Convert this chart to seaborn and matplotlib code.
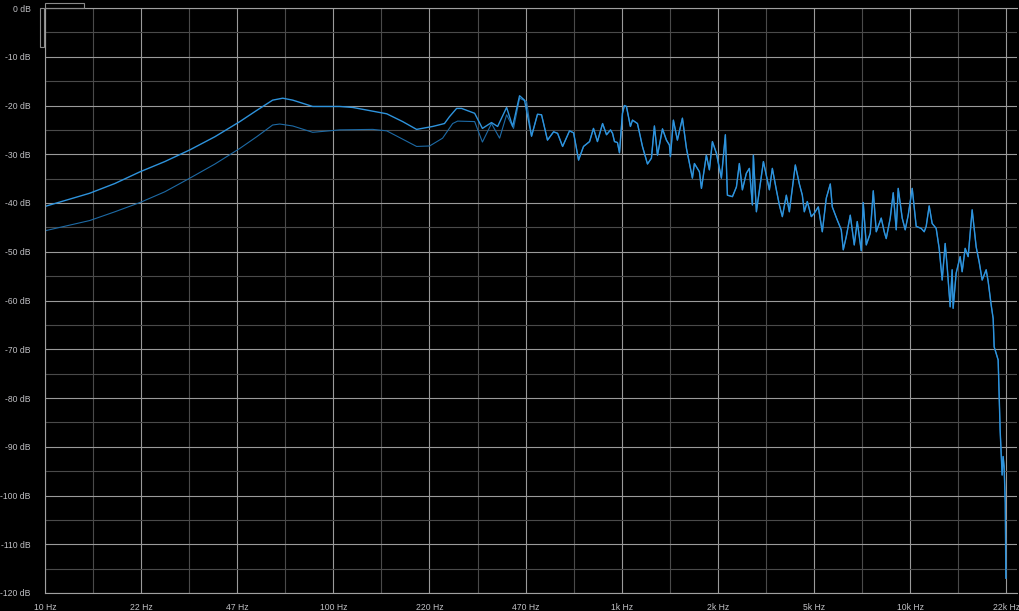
import numpy as np
import pandas as pd
import matplotlib
matplotlib.use('Agg')
import matplotlib.pyplot as plt
import seaborn as sns
from matplotlib.patches import Rectangle
from matplotlib.ticker import NullFormatter

# 低频段：两条曲线分开
upper_low_hz = [10, 14.3, 17.5, 21.4, 26.1, 31.9, 39.0, 47.6, 54.5, 61.9, 67.1, 72.7, 85.3,
                105.9, 117.5, 154.3, 175.3, 196, 223, 245, 255, 270, 281, 312, 332, 357,
                375, 403, 423, 447, 465]
upper_low_db = [-40.7, -38.0, -36.0, -33.6, -31.5, -29.1, -26.4, -23.3, -21.0, -18.9, -18.5,
                -18.9, -20.2, -20.2, -20.4, -21.7, -23.3, -24.9, -24.3, -23.7, -22.3, -20.6,
                -20.6, -21.6, -24.7, -23.5, -24.3, -20.4, -24.3, -18.0, -18.9]

lower_low_hz = [10, 14.3, 17.5, 21.4, 26.1, 31.9, 39.0, 47.6, 54.5, 61.9, 65.5, 72.7, 85.3,
                105.9, 137.9, 154.3, 196, 217.6, 241.4, 261.6, 272.2, 312, 332, 357, 381,
                403, 426, 447, 473]
lower_low_db = [-45.7, -43.6, -41.8, -39.9, -37.7, -34.9, -32.0, -28.8, -26.4, -24.0, -23.8,
                -24.2, -25.5, -25.0, -24.9, -25.2, -28.4, -28.3, -26.7, -23.7, -23.2, -23.3,
                -27.5, -23.7, -26.7, -21.9, -24.7, -18.5, -19.2]

# 中高频段：两条曲线几乎重合
shared_hz = [492, 516, 533, 559, 587, 606, 631, 667, 689, 717, 746, 783, 808, 834, 869, 897,
             926, 941, 956, 979, 995, 1019, 1035, 1052, 1086, 1104, 1149, 1196, 1245, 1285,
             1316, 1349, 1404, 1449, 1484, 1496, 1532, 1582, 1647, 1701, 1784, 1813, 1887,
             1918, 1995, 2044, 2094, 2162, 2250, 2323, 2361, 2458, 2538, 2598, 2662, 2748,
             2815, 2884, 2907, 2978, 3150, 3304, 3384, 3494, 3579, 3666, 3785, 3877, 4067,
             4201, 4302, 4371, 4477, 4623, 4735, 4889, 5048, 5212, 5382, 5468, 5691, 5876,
             5971, 6116, 6315, 6520, 6678, 6896, 7006, 7178, 7412, 7592, 7776, 8093, 8289,
             8423, 8697, 8909, 9125, 9271, 9573, 9805, 10044, 10371, 10708, 11143, 11415,
             11598, 11879, 12168, 12564, 12869, 13183, 13503, 13722, 14054, 14278, 14392,
             14743, 15223, 15468, 15849, 16233, 16761, 17306, 17728, 18159, 18750, 19053,
             19513, 19830, 19988, 20638, 20970, 21135, 21306, 21478, 21648, 21850, 21950]
shared_db = [-26.3, -21.8, -21.9, -27.1, -25.4, -25.7, -28.4, -25.2, -25.6, -31.2, -28.4,
             -27.4, -24.7, -27.4, -23.7, -26.0, -25.0, -25.7, -27.4, -27.6, -29.7, -21.6,
             -20.0, -20.2, -24.3, -23.0, -23.7, -28.4, -32.0, -30.8, -24.2, -30.2, -24.8,
             -27.1, -28.1, -30.5, -23.0, -27.1, -22.6, -28.8, -34.9, -31.9, -33.6, -37.0,
             -30.2, -33.2, -27.4, -29.8, -34.9, -26.0, -38.4, -38.7, -36.7, -31.9, -37.3,
             -33.9, -32.9, -40.4, -30.2, -41.8, -31.5, -37.3, -32.9, -37.3, -40.4, -42.8,
             -38.4, -41.8, -32.2, -36.1, -38.4, -41.8, -39.7, -42.8, -42.1, -40.8, -45.9,
             -39.0, -36.1, -40.8, -43.5, -45.5, -49.6, -46.9, -42.5, -48.6, -43.8, -49.8,
             -39.9, -48.6, -46.2, -37.5, -45.9, -43.1, -45.9, -47.3, -43.1, -37.9, -45.5,
             -37.0, -43.1, -45.5, -42.5, -37.0, -44.8, -45.2, -45.9, -44.8, -40.6, -44.2,
             -45.2, -49.3, -55.8, -48.3, -53.1, -61.3, -53.7, -61.6, -54.4, -51.0, -54.1,
             -49.3, -51.0, -41.4, -49.0, -52.1, -55.8, -53.7, -56.1, -60.9, -63.7, -69.5,
             -72.2, -86.6, -91.3, -95.8, -92.0, -94.1, -101.5, -117.0]

x_labels = ['10 Hz', '22 Hz', '47 Hz', '100 Hz', '220 Hz', '470 Hz',
            '1k Hz', '2k Hz', '5k Hz', '10k Hz', '22k Hz']
y_ticks = list(range(-120, 1, 10))

sns.set_style('dark', {'axes.facecolor': 'black', 'figure.facecolor': 'black'})
plt.rcParams['font.family'] = ['Liberation Sans', 'DejaVu Sans']

df_up = pd.DataFrame({'hz': upper_low_hz + shared_hz, 'db': upper_low_db + shared_db})
df_lo = pd.DataFrame({'hz': lower_low_hz + shared_hz, 'db': lower_low_db + shared_db})

fig = plt.figure(figsize=(10.2, 6.11), dpi=100, facecolor='black')
ax = fig.add_axes([45 / 1020, 18 / 611, 972 / 1020, 585 / 611])
ax.set_facecolor('black')

sns.lineplot(data=df_lo, x='hz', y='db', ax=ax, color='#1d6aa5', lw=0.8,
             estimator=None, sort=False)
sns.lineplot(data=df_up, x='hz', y='db', ax=ax, color='#2e93dc', lw=1.0,
             estimator=None, sort=False)

ax.set_xscale('log')
ax.set_xlim(10, 24000)
ax.set_ylim(-120, 0)

# 刻度在对数轴上等距，标签是取整后的频率
ax.set_xticks(np.geomspace(10, 22000, 11))
ax.set_xticklabels(x_labels)
ax.set_xticks(np.geomspace(10, 22000, 21)[1::2], minor=True)
ax.xaxis.set_minor_formatter(NullFormatter())
ax.set_yticks(y_ticks)
ax.set_yticklabels([f'{v} dB' for v in y_ticks])
ax.set_yticks(list(range(-115, 0, 10)), minor=True)
ax.yaxis.set_minor_formatter(NullFormatter())

ax.grid(which='major', color='#9a9a9a', lw=0.8)
ax.grid(which='minor', color='#4a4a4a', lw=0.8)
ax.set_axisbelow(True)

ax.tick_params(which='both', length=0, labelsize=6.2, labelcolor='#c0c0c4')
ax.tick_params(axis='y', pad=10.5)
ax.tick_params(axis='x', pad=7)
ax.set_xlabel('')
ax.set_ylabel('')

for side in ['left', 'bottom', 'top']:
    ax.spines[side].set_color('#a0a0a0')
    ax.spines[side].set_linewidth(0.8)
ax.spines['right'].set_visible(False)

# 左上角的小控件框
fig.patches.append(Rectangle((45 / 1020, 1 - 8 / 611), 39 / 1020, 5 / 611,
                             transform=fig.transFigure, fill=False, ec='#8a8a8a', lw=0.8))
fig.patches.append(Rectangle((40 / 1020, 1 - 47 / 611), 4 / 1020, 39 / 611,
                             transform=fig.transFigure, fill=False, ec='#8a8a8a', lw=0.8))

fig.savefig('out.png', dpi=100, facecolor='black')
